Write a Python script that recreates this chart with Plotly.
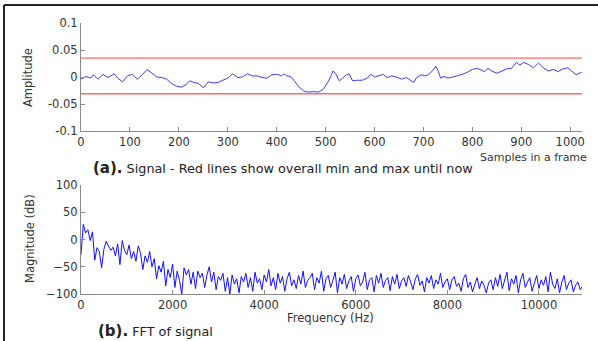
import plotly.graph_objects as go

# ---- Data: signal (samples in a frame) ----
sig_x = [0, 10, 20, 25, 35, 45, 55, 68, 75, 85, 95, 105, 115, 125, 135, 145, 155, 165, 175, 185,
         195, 205, 215, 222, 230, 240, 250, 260, 270, 280, 290, 300, 310, 320, 330, 340, 350, 360,
         370, 380, 390, 400, 410, 415, 420, 428, 435, 445, 455, 465, 475, 485, 495, 505, 512, 515,
         520, 528, 535, 542, 548, 555, 565, 575, 585, 592, 600, 610, 618, 625, 635, 645, 655, 665,
         672, 680, 685, 695, 705, 712, 720, 725, 730, 735, 742, 750, 760, 770, 780, 790, 800, 810,
         818, 825, 832, 840, 850, 860, 870, 880, 890, 897, 905, 915, 925, 935, 945, 955, 965, 975,
         985, 995, 1005, 1012, 1023]
sig_y = [-0.004, 0.001, -0.002, 0.004, -0.004, 0.005, -0.001, 0.006, -0.002, -0.009, 0.002, 0.005,
         -0.004, 0.004, 0.014, 0.007, 0.0, -0.001, -0.004, -0.012, -0.017, -0.019, -0.014, -0.007,
         -0.010, -0.012, -0.020, -0.009, -0.011, -0.010, -0.006, -0.002, 0.006, -0.001, 0.0, 0.006,
         0.002, 0.002, -0.001, -0.002, 0.004, 0.005, 0.002, 0.006, 0.002, 0.001, -0.006, -0.018,
         -0.026, -0.028, -0.027, -0.028, -0.023, -0.009, 0.004, 0.011, 0.007, -0.007, -0.002, 0.004,
         0.006, -0.007, -0.006, -0.006, -0.002, 0.005, 0.0, 0.002, 0.005, -0.001, 0.002, 0.0, -0.004,
         -0.001, -0.006, -0.010, -0.002, 0.004, 0.002, 0.006, 0.013, 0.020, 0.011, -0.002, 0.001,
         -0.002, 0.0, 0.002, 0.005, 0.009, 0.014, 0.016, 0.012, 0.010, 0.016, 0.011, 0.007, 0.011,
         0.015, 0.016, 0.027, 0.022, 0.027, 0.023, 0.017, 0.026, 0.017, 0.011, 0.014, 0.010, 0.015,
         0.017, 0.010, 0.004, 0.009]
sig_max = 0.035
sig_min = -0.031

# ---- Data: FFT magnitude (dB), one value every 50 Hz ----
fft_step_hz = 50
fft_db = [-28, 28, 12, 18, -2, 14, -38, -15, -22, -52, -18, -3, -12, -20, -14, -30, -8, -46, -2, -20,
          -28, -10, -35, -22, -40, -12, -25, -55, -30, -42, -22, -50, -35, -72, -48, -60, -40, -85, -55,
          -70, -45, -88, -58, -75, -100, -52, -65, -55, -82, -60, -90, -58, -70, -62, -88, -65, -50, -78,
          -60, -92, -68, -75, -62, -95, -70, -100, -65, -82, -72, -98, -68, -78, -62, -88, -70, -95, -60,
          -80, -72, -92, -65, -78, -55, -85, -70, -92, -62, -80, -68, -95, -72, -60, -85, -74, -90, -66,
          -82, -58, -88, -75, -70, -62, -92, -70, -80, -58, -95, -72, -66, -88, -75, -60, -98, -70, -82,
          -64, -90, -76, -68, -95, -72, -65, -85, -78, -60, -92, -74, -70, -96, -66, -80, -62, -88, -75,
          -70, -94, -68, -82, -64, -90, -76, -70, -86, -66, -78, -92, -72, -64, -84, -76, -96, -70, -80,
          -66, -90, -74, -82, -62, -88, -78, -72, -92, -74, -68, -86, -80, -95, -72, -64, -88, -78, -96,
          -82, -70, -90, -76, -84, -98, -80, -74, -92, -70, -86, -64, -90, -76, -60, -94, -72, -82, -66,
          -98, -74, -62, -88, -78, -70, -95, -80, -66, -90, -74, -84, -68, -96, -60, -82, -90, -72, -98,
          -78, -66, -92, -80, -74, -96, -84, -78, -92, -86, -98]
fft_f = [i * fft_step_hz for i in range(len(fft_db))]

# ---- Tick labels ----
top_xticks = [0, 100, 200, 300, 400, 500, 600, 700, 800, 900, 1000]
top_yticks = [-0.1, -0.05, 0, 0.05, 0.1]
top_ytext = ["-0.1", "-0.05", "0", "0.05", "0.1"]
bot_xticks = [0, 2000, 4000, 6000, 8000, 10000]
bot_xtext = ["0", "2000", "4000", "6000", "8000", "10000"]
bot_yticks = [-100, -50, 0, 50, 100]

W, H = 598, 341
def px(x): return x / W
def py(y): return 1 - y / H

fig = go.Figure()
fig.add_trace(go.Scatter(x=sig_x, y=sig_y, mode="lines", line=dict(color="#3b3bff", width=1),
                         xaxis="x", yaxis="y", showlegend=False))
fig.add_trace(go.Scatter(x=[0, 1024], y=[sig_max, sig_max], mode="lines",
                         line=dict(color="#ff6b6b", width=1.3), xaxis="x", yaxis="y", showlegend=False))
fig.add_trace(go.Scatter(x=[0, 1024], y=[sig_min, sig_min], mode="lines",
                         line=dict(color="#ff6b6b", width=1.3), xaxis="x", yaxis="y", showlegend=False))
fig.add_trace(go.Scatter(x=fft_f, y=fft_db, mode="lines", line=dict(color="#1010ff", width=1),
                         xaxis="x2", yaxis="y2", showlegend=False))

tickfont = dict(family="DejaVu Sans", size=11.5, color="#333333")
axcommon = dict(showline=True, linecolor="#8a8a8a", linewidth=1, ticks="inside", ticklen=4,
                tickcolor="#8a8a8a", showgrid=False, zeroline=False, tickfont=tickfont,
                automargin=False)

fig.update_layout(
    width=W, height=H, margin=dict(l=0, r=0, t=0, b=0),
    paper_bgcolor="white", plot_bgcolor="white",
    xaxis=dict(domain=[px(81), px(582)], range=[0, 1024], tickvals=top_xticks, anchor="y", **axcommon),
    yaxis=dict(domain=[py(131), py(23)], range=[-0.1, 0.1], tickvals=top_yticks, ticktext=top_ytext,
               anchor="x", **axcommon),
    xaxis2=dict(domain=[px(81), px(582)], range=[0, 10940], tickvals=bot_xticks, ticktext=bot_xtext,
                anchor="y2", **axcommon),
    yaxis2=dict(domain=[py(294), py(185)], range=[-100, 100], tickvals=bot_yticks, anchor="x2", **axcommon),
)

lblfont = dict(family="DejaVu Sans", size=11.5, color="#333333")
def ann(text, x, y, xanchor="center", angle=0, font=lblfont):
    fig.add_annotation(text=text, x=px(x), y=py(y), xref="paper", yref="paper", textangle=angle,
                       xanchor=xanchor, yanchor="middle", showarrow=False, font=font)

ann("Amplitude", 28, 77, angle=-90)
ann("Magnitude (dB)", 30, 239, angle=-90)
ann("Samples in a frame", 589, 157, xanchor="right", font=dict(family="DejaVu Sans", size=11, color="#333333"))
ann("Frequency (Hz)", 330, 318)
capfont = dict(family="DejaVu Sans", size=12.8, color="#222222")
ann("<b><span style='font-size:15px'>(a).</span></b> Signal - Red lines show overall min and max until now",
    91, 168, xanchor="left", font=capfont)
ann("<b><span style='font-size:15px'>(b).</span></b> FFT of signal", 96, 331, xanchor="left", font=capfont)

# outer frame
fig.add_shape(type="line", xref="paper", yref="paper", x0=px(4), x1=1, y0=py(5), y1=py(5),
              line=dict(color="#222222", width=2))
fig.add_shape(type="line", xref="paper", yref="paper", x0=px(4), x1=px(4), y0=py(5), y1=0,
              line=dict(color="#222222", width=2))

fig.write_html("out.html")
